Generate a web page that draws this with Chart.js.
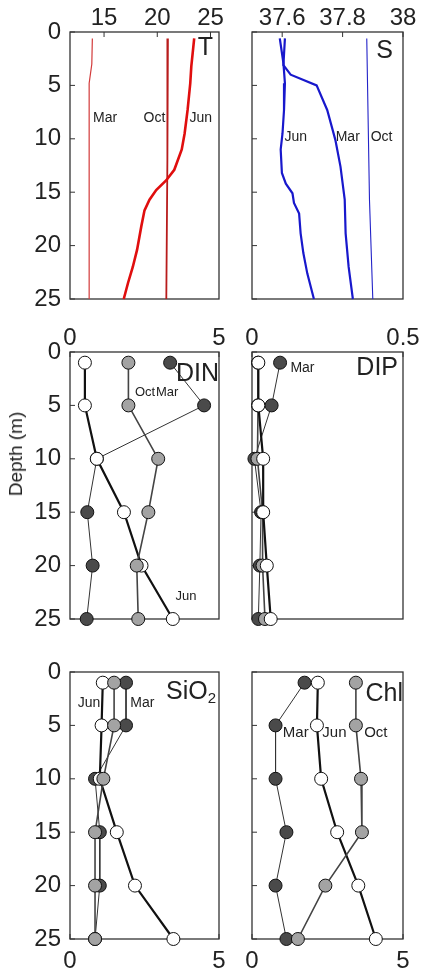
<!DOCTYPE html>
<html>
<head>
<meta charset="utf-8">
<script src="https://cdn.jsdelivr.net/npm/chart.js@4.4.0/dist/chart.umd.min.js"></script>
<style>
  body { margin: 0; background: #fff; width: 423px; height: 969px; overflow: hidden; position: relative; }
  canvas { position: absolute; }
  #ylab { position: absolute; left: 16px; top: 454px; transform: translate(-50%, -50%) rotate(-90deg);
          font: 19px "Liberation Sans", Arial, sans-serif; color: #222; white-space: nowrap; }
</style>
</head>
<body>
<canvas id="cT" width="228" height="310" style="left:0;top:0"></canvas>
<canvas id="cS" width="193" height="310" style="left:230px;top:0"></canvas>
<canvas id="cDIN" width="228" height="310" style="left:0;top:320px"></canvas>
<canvas id="cDIP" width="193" height="310" style="left:230px;top:320px"></canvas>
<canvas id="cSi" width="228" height="309" style="left:0;top:660px"></canvas>
<canvas id="cChl" width="193" height="309" style="left:230px;top:660px"></canvas>
<div id="ylab">Depth (m)</div>
<script>
// CTD profiles (depth in m)
var tDepthMar = [0.6, 3.0, 4.8, 25];
var tMar = [13.9, 13.85, 13.6, 13.6];
var tDepthOct = [0.6, 12, 25];
var tOct = [21.0, 20.95, 20.85];
var tDepthJun = [0.6, 3.2, 4.8, 7.3, 9.5, 11.0, 12.9, 13.9, 14.8, 15.7, 16.7, 18.2, 20.4, 22.0, 23.5, 25];
var tJun = [23.47, 23.2, 23.1, 22.85, 22.57, 22.3, 21.6, 20.83, 19.9, 19.27, 18.8, 18.5, 18.1, 17.7, 17.25, 16.85];

var sDepthJun = [0.6, 2.9, 4.8, 7.3, 9.5, 11.0, 13.2, 14.2, 15.1, 16.0, 17.0, 18.85, 20.7, 22.6, 25];
var sJun = [37.592, 37.604, 37.609, 37.606, 37.601, 37.595, 37.599, 37.612, 37.634, 37.639, 37.656, 37.661, 37.670, 37.683, 37.705];
var sDepthMar = [0.6, 3.1, 4.0, 5.0, 7.3, 10.1, 12.6, 15.7, 18.85, 22.0, 25];
var sMar = [37.609, 37.604, 37.628, 37.714, 37.749, 37.776, 37.793, 37.807, 37.810, 37.820, 37.834];
var sDepthOct = [0.6, 15.7, 25];
var sOct = [37.880, 37.889, 37.900];

// bottle samples
var sampleDepth = [1, 5, 10, 15, 20, 25];
var dinMar = [3.36, 4.5, 0.9, 0.58, 0.76, 0.56];
var dinOct = [1.96, 1.96, 2.96, 2.63, 2.24, 2.29];
var dinJun = [0.5, 0.5, 0.9, 1.81, 2.4, 3.45];
var dipMar = [0.093, 0.065, 0.008, 0.03, 0.026, 0.021];
var dipOct = [0.02, 0.02, 0.018, 0.035, 0.035, 0.043];
var dipJun = [0.021, 0.021, 0.037, 0.037, 0.049, 0.062];
var sioMar = [1.88, 1.88, 0.84, 1.0, 1.0, 0.84];
var sioOct = [1.48, 1.48, 1.12, 0.84, 0.84, 0.84];
var sioJun = [1.1, 1.06, 1.0, 1.57, 2.18, 3.47];
var chlMar = [1.74, 0.78, 0.78, 1.14, 0.78, 1.14];
var chlOct = [3.44, 3.44, 3.61, 3.64, 2.43, 1.52];
var chlJun = [2.18, 2.15, 2.29, 2.82, 3.52, 4.1];

var depthTicks = [0, 5, 10, 15, 20, 25];

var FONT = '"Liberation Sans", Arial, sans-serif';
var INK = '#222';

function pts(xs, ys) {
  return xs.map(function (v, i) { return {x: v, y: ys[i]}; });
}

function profile(xs, ys, color, width) {
  return {data: pts(xs, ys), showLine: true, borderColor: color, borderWidth: width,
          pointRadius: 0, clip: false};
}

function bottle(xs, fill, lineColor, lineWidth) {
  return {data: pts(xs, sampleDepth), showLine: true, borderColor: lineColor, borderWidth: lineWidth,
          pointRadius: 6.5, pointBackgroundColor: fill, pointBorderColor: '#111', pointBorderWidth: 1,
          clip: false};
}

// box, inward ticks and in-panel text
var frame = {
  id: 'frame',
  beforeDatasetsDraw: function (chart) {
    var a = chart.chartArea, ctx = chart.ctx;
    var xs = chart.scales.x, ys = chart.scales.y;
    ctx.save();
    ctx.strokeStyle = '#333';
    ctx.lineWidth = 1.3;
    ctx.strokeRect(a.left, a.top, a.right - a.left, a.bottom - a.top);
    ctx.lineWidth = 1;
    ctx.beginPath();
    var top = xs.options.position === 'top';
    xs.ticks.forEach(function (t) {
      var px = xs.getPixelForValue(t.value);
      var y0 = top ? a.top : a.bottom;
      ctx.moveTo(px, y0);
      ctx.lineTo(px, y0 + (top ? 5 : -5));
    });
    ys.ticks.forEach(function (t) {
      var py = ys.getPixelForValue(t.value);
      ctx.moveTo(a.left, py);
      ctx.lineTo(a.left + 5, py);
    });
    ctx.stroke();
    ctx.restore();
  },
  afterDatasetsDraw: function (chart, args, o) {
    var a = chart.chartArea, ctx = chart.ctx;
    ctx.save();
    ctx.fillStyle = INK;
    ctx.textAlign = 'center';
    ctx.textBaseline = 'middle';
    ctx.font = o.noteSize + 'px ' + FONT;
    (o.notes || []).forEach(function (n) {
      ctx.fillText(n.text, chart.scales.x.getPixelForValue(n.x), chart.scales.y.getPixelForValue(n.y));
    });
    ctx.textBaseline = 'alphabetic';
    ctx.textAlign = 'right';
    ctx.font = '25px ' + FONT;
    var bx = a.right - o.rx, by = a.top + o.by;
    if (o.sub) {
      ctx.font = '15px ' + FONT;
      ctx.fillText(o.sub, bx, by + 4);
      bx -= ctx.measureText(o.sub).width;
      ctx.font = '25px ' + FONT;
    }
    ctx.fillText(o.title, bx, by);
    ctx.restore();
  }
};

function makePanel(id, cfg) {
  var left = cfg.col === 0;
  var tickFont = {family: FONT, size: 24};
  new Chart(document.getElementById(id), {
    type: 'scatter',
    data: {datasets: cfg.datasets},
    plugins: [frame],
    options: {
      responsive: false,
      animation: false,
      events: [],
      layout: {padding: cfg.padding},
      scales: {
        x: {
          type: 'linear', position: cfg.xPos, min: cfg.xMin, max: cfg.xMax,
          afterBuildTicks: function (s) { s.ticks = cfg.xTicks.map(function (v) { return {value: v}; }); },
          afterFit: function (s) { s.height = cfg.xPos === 'top' ? 32 : 30; s.paddingLeft = 0; s.paddingRight = 0; },
          grid: {display: false, drawTicks: false},
          border: {display: false},
          ticks: {font: tickFont, color: INK, padding: cfg.xPos === 'top' ? -1 : 8, maxRotation: 0, autoSkip: false,
                  callback: function (v) { return String(v); }}
        },
        y: {
          type: 'linear', reverse: true, min: 0, max: 25,
          afterBuildTicks: function (s) { s.ticks = depthTicks.map(function (v) { return {value: v}; }); },
          afterFit: function (s) { s.width = left ? 70 : 22; s.paddingTop = 0; s.paddingBottom = 0; },
          grid: {display: false, drawTicks: false},
          border: {display: false},
          ticks: {display: left, font: tickFont, color: INK, padding: 9, autoSkip: false}
        }
      },
      plugins: {
        legend: {display: false},
        tooltip: {enabled: false},
        frame: cfg.text
      }
    }
  });
}

var padTopL = {top: 0, right: 9, bottom: 11, left: 0};
var padTopR = {top: 0, right: 20, bottom: 11, left: 0};
var padBotL = {top: 12, right: 9, bottom: 0, left: 0};
var padBotR = {top: 12, right: 20, bottom: 0, left: 0};

makePanel('cT', {
  col: 0, xPos: 'top', xMin: 11.8, xMax: 25.8, xTicks: [15, 20, 25], padding: padTopL,
  datasets: [
    profile(tJun, tDepthJun, '#e00e0e', 2.6),
    profile(tOct, tDepthOct, '#b81c1c', 1.8),
    profile(tMar, tDepthMar, '#d23a3a', 1.2)
  ],
  text: {title: 'T', rx: 6, by: 23, noteSize: 14,
         notes: [{text: 'Mar', x: 15.1, y: 8.05}, {text: 'Oct', x: 19.74, y: 8.05}, {text: 'Jun', x: 24.08, y: 8.05}]}
});

makePanel('cS', {
  col: 1, xPos: 'top', xMin: 37.5, xMax: 38.0, xTicks: [37.6, 37.8, 38], padding: padTopR,
  datasets: [
    profile(sJun, sDepthJun, '#1818cc', 2.2),
    profile(sMar, sDepthMar, '#1818cc', 2.2),
    profile(sOct, sDepthOct, '#2323c8', 1.1)
  ],
  text: {title: 'S', rx: 10, by: 26, noteSize: 14,
         notes: [{text: 'Jun', x: 37.645, y: 9.83}, {text: 'Mar', x: 37.817, y: 9.83}, {text: 'Oct', x: 37.929, y: 9.83}]}
});

makePanel('cDIN', {
  col: 0, xPos: 'top', xMin: 0, xMax: 5, xTicks: [0, 5], padding: padTopL,
  datasets: [
    bottle(dinOct, '#a3a3a3', '#444', 1.6),
    bottle(dinJun, '#ffffff', '#111', 2.2),
    bottle(dinMar, '#4a4a4a', '#333', 1)
  ],
  text: {title: 'DIN', rx: 0, by: 29, noteSize: 13,
         notes: [{text: 'Oct', x: 2.52, y: 3.75}, {text: 'Mar', x: 3.26, y: 3.75}, {text: 'Jun', x: 3.89, y: 22.9}]}
});

makePanel('cDIP', {
  col: 1, xPos: 'top', xMin: 0, xMax: 0.5, xTicks: [0, 0.5], padding: padTopR,
  datasets: [
    bottle(dipJun, '#ffffff', '#111', 2.2),
    bottle(dipOct, '#a3a3a3', '#444', 1.6),
    bottle(dipMar, '#4a4a4a', '#333', 1)
  ],
  text: {title: 'DIP', rx: 5, by: 23, noteSize: 14,
         notes: [{text: 'Mar', x: 0.167, y: 1.5}]}
});

makePanel('cSi', {
  col: 0, xPos: 'bottom', xMin: 0, xMax: 5, xTicks: [0, 5], padding: padBotL,
  datasets: [
    bottle(sioOct, '#a3a3a3', '#444', 1.6),
    bottle(sioJun, '#ffffff', '#111', 2.2),
    bottle(sioMar, '#4a4a4a', '#333', 1)
  ],
  text: {title: 'SiO', sub: '2', rx: 3, by: 27, noteSize: 14,
         notes: [{text: 'Jun', x: 0.64, y: 2.9}, {text: 'Mar', x: 2.43, y: 2.9}]}
});

makePanel('cChl', {
  col: 1, xPos: 'bottom', xMin: 0, xMax: 5, xTicks: [0, 5], padding: padBotR,
  datasets: [
    bottle(chlOct, '#a3a3a3', '#444', 1.6),
    bottle(chlJun, '#ffffff', '#111', 2.2),
    bottle(chlMar, '#4a4a4a', '#333', 1)
  ],
  text: {title: 'Chl', rx: 0, by: 29, noteSize: 15,
         notes: [{text: 'Mar', x: 1.45, y: 5.7}, {text: 'Jun', x: 2.73, y: 5.7}, {text: 'Oct', x: 4.1, y: 5.7}]}
});
</script>
</body>
</html>
